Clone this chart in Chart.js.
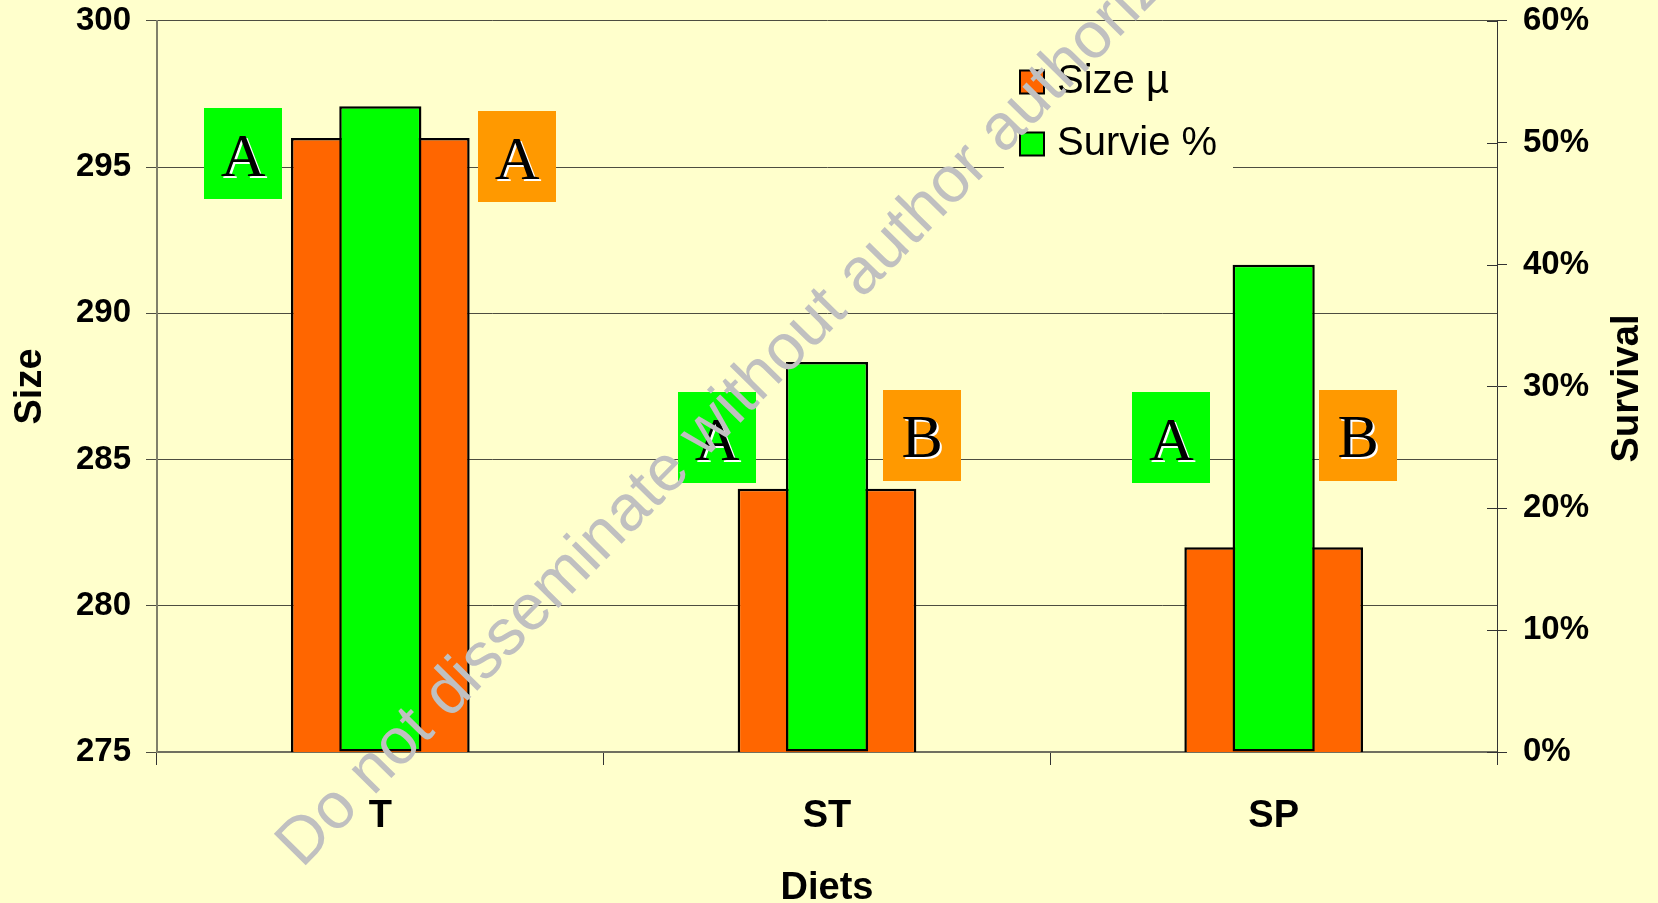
<!DOCTYPE html>
<html>
<head>
<meta charset="utf-8">
<title>Size and survival by diet</title>
<script src="https://cdn.jsdelivr.net/npm/chart.js@4.4.1/dist/chart.umd.min.js"></script>
<style>
  html, body { margin: 0; padding: 0; background: #FFFFCC; }
  canvas { display: block; }
</style>
</head>
<body>
<canvas id="chart" width="1658" height="903"></canvas>
<script>
// ---- data ----
const diets = ['T', 'ST', 'SP'];
const sizeMean = [296, 284, 282];          // Size µ (left axis)
const survivalPct = [53, 32, 40];          // Survie % (right axis)
const sizeTicks = [275, 280, 285, 290, 295, 300];
const survivalTicks = [0, 10, 20, 30, 40, 50, 60];
const survivalLetters = ['A', 'A', 'A'];   // significance groups, survival
const sizeLetters = ['A', 'B', 'B'];       // significance groups, size
const watermarkText = 'Do not disseminate without author authorization';

// ---- layout of the significance-letter boxes ----
// dx: offset from the category centre in category widths; y: box centre on the Size scale
const survivalBoxPos = [{ dx: -0.307, y: 295.46 }, { dx: -0.246, y: 285.74 }, { dx: -0.229, y: 285.74 }];
const sizeBoxPos = [{ dx: 0.306, y: 295.36 }, { dx: 0.213, y: 285.84 }, { dx: 0.189, y: 285.84 }];

const SANS = '"Liberation Sans", Arial, Helvetica, sans-serif';
const SERIF = '"Liberation Serif", "Times New Roman", serif';
const BG = '#FFFFCC';
const ORANGE = '#FF6600';
const GREEN = '#00FF00';
const BOX_ORANGE = '#FF9900';

Chart.defaults.font.family = SANS;
Chart.defaults.color = '#000';

const backgroundPlugin = {
  id: 'pageBackground',
  beforeDraw(chart) {
    const { ctx, width, height } = chart;
    ctx.save();
    ctx.fillStyle = BG;
    ctx.fillRect(0, 0, width, height);
    ctx.restore();
  }
};

// tick marks of the right axis cross the axis line
const crossTicksPlugin = {
  id: 'crossTicks',
  beforeDatasetsDraw(chart) {
    const s = chart.scales.y1;
    const { ctx } = chart;
    ctx.save();
    ctx.strokeStyle = '#333';
    ctx.lineWidth = 1;
    s.ticks.forEach(t => {
      const py = Math.round(s.getPixelForValue(t.value)) + 0.5;
      ctx.beginPath();
      ctx.moveTo(s.left - 10, py);
      ctx.lineTo(s.left, py);
      ctx.stroke();
    });
    ctx.restore();
  }
};

const legendPlugin = {
  id: 'boxLegend',
  afterDatasetsDraw(chart) {
    const { ctx } = chart;
    ctx.save();
    ctx.fillStyle = BG;
    ctx.fillRect(1004, 40, 229, 136);
    const rows = [82, 144];
    chart.data.datasets.forEach((ds, i) => {
      const cy = rows[i];
      ctx.fillStyle = ds.backgroundColor;
      ctx.fillRect(1020, cy - 11.5, 24, 23);
      ctx.strokeStyle = '#000';
      ctx.lineWidth = 2;
      ctx.strokeRect(1020, cy - 11.5, 24, 23);
      ctx.fillStyle = '#000';
      ctx.font = '40px ' + SANS;
      ctx.textAlign = 'left';
      ctx.textBaseline = 'middle';
      ctx.fillText(ds.label, 1057, cy);
    });
    ctx.restore();
  }
};

function letterBox(ctx, cx, cy, fill, letter) {
  const w = 78, h = 91;
  ctx.fillStyle = fill;
  ctx.fillRect(Math.round(cx - w / 2), Math.round(cy - h / 2), w, h);
  ctx.font = '62px ' + SERIF;
  ctx.textAlign = 'center';
  ctx.textBaseline = 'alphabetic';
  const by = cy + 22;
  ctx.fillStyle = '#FFFFFF';
  ctx.fillText(letter, cx + 2, by + 2);
  ctx.fillStyle = '#000000';
  ctx.fillText(letter, cx, by);
}

const lettersPlugin = {
  id: 'groupLetters',
  afterDatasetsDraw(chart) {
    const { ctx } = chart;
    const xs = chart.scales.x, ys = chart.scales.y;
    const catW = xs.width / diets.length;
    ctx.save();
    diets.forEach((d, i) => {
      const c = xs.getPixelForValue(i);
      letterBox(ctx, c + survivalBoxPos[i].dx * catW, ys.getPixelForValue(survivalBoxPos[i].y), GREEN, survivalLetters[i]);
      letterBox(ctx, c + sizeBoxPos[i].dx * catW, ys.getPixelForValue(sizeBoxPos[i].y), BOX_ORANGE, sizeLetters[i]);
    });
    ctx.restore();
  }
};

const rightTitlePlugin = {
  id: 'rightTitle',
  afterDraw(chart) {
    const { ctx } = chart;
    const s = chart.scales.y1;
    ctx.save();
    ctx.translate(1628, (s.top + s.bottom) / 2 + 2);
    ctx.rotate(-Math.PI / 2);
    ctx.font = 'bold 38px ' + SANS;
    ctx.fillStyle = '#000';
    ctx.textAlign = 'center';
    ctx.textBaseline = 'middle';
    ctx.fillText('Survival', 0, 0);
    ctx.restore();
  }
};

const watermarkPlugin = {
  id: 'watermark',
  afterDraw(chart) {
    const { ctx } = chart;
    ctx.save();
    ctx.translate(302, 869);
    ctx.rotate(-45.5 * Math.PI / 180);
    ctx.font = '65px ' + SANS;
    ctx.fillStyle = '#C0C0C0';
    ctx.textAlign = 'left';
    ctx.textBaseline = 'alphabetic';
    ctx.fillText(watermarkText, 0, 0);
    ctx.restore();
  }
};

new Chart(document.getElementById('chart'), {
  type: 'bar',
  data: {
    labels: diets,
    datasets: [
      {
        label: 'Size µ',
        data: sizeMean,
        yAxisID: 'y',
        backgroundColor: ORANGE,
        borderColor: '#000',
        borderWidth: 2.5,
        borderSkipped: false,
        grouped: false,
        categoryPercentage: 1,
        barPercentage: 0.40,
        order: 1
      },
      {
        label: 'Survie %',
        data: survivalPct,
        yAxisID: 'y1',
        backgroundColor: GREEN,
        borderColor: '#000',
        borderWidth: 2.5,
        borderSkipped: false,
        grouped: false,
        categoryPercentage: 1,
        barPercentage: 0.184,
        order: 0
      }
    ]
  },
  options: {
    responsive: false,
    devicePixelRatio: 1,
    animation: false,
    events: [],
    layout: { padding: 0 },
    plugins: {
      legend: { display: false },
      tooltip: { enabled: false }
    },
    scales: {
      x: {
        type: 'category',
        offset: true,
        grid: { offset: true, drawOnChartArea: false, drawTicks: true, tickLength: 13, color: '#333', lineWidth: 1 },
        border: { display: true, color: '#707060', width: 2 },
        ticks: { color: '#000', font: { size: 38, weight: 'bold', lineHeight: 1.2 }, padding: 29, maxRotation: 0, autoSkip: false },
        title: { display: true, text: 'Diets', color: '#000', font: { size: 38, weight: 'bold', lineHeight: 1 }, padding: { top: 0, bottom: -5 } },
        afterFit(s) { s.height = 151; }
      },
      y: {
        position: 'left',
        min: sizeTicks[0],
        max: sizeTicks[sizeTicks.length - 1],
        afterBuildTicks(s) { s.ticks = sizeTicks.map(v => ({ value: v })); },
        grid: { color: '#4d4d40', lineWidth: 1, drawTicks: true, tickLength: 11 },
        border: { color: '#80806a', width: 2 },
        ticks: { color: '#000', font: { size: 33, weight: 'bold', lineHeight: 0.3 }, padding: 15 },
        title: { display: true, text: 'Size', color: '#000', font: { size: 38, weight: 'bold', lineHeight: 1 }, padding: { top: 12, bottom: 0 } },
        afterFit(s) { s.width = 157; }
      },
      y1: {
        position: 'right',
        min: survivalTicks[0],
        max: survivalTicks[survivalTicks.length - 1],
        afterBuildTicks(s) { s.ticks = survivalTicks.map(v => ({ value: v })); },
        grid: { drawOnChartArea: false, drawTicks: true, tickLength: 10, color: '#333', lineWidth: 1 },
        border: { color: '#333', width: 1 },
        ticks: { color: '#000', font: { size: 33, weight: 'bold', lineHeight: 0.3 }, padding: 16, callback: v => v + '%' },
        afterFit(s) { s.width = 161; }
      }
    }
  },
  plugins: [backgroundPlugin, crossTicksPlugin, legendPlugin, lettersPlugin, rightTitlePlugin, watermarkPlugin]
});
</script>
</body>
</html>
